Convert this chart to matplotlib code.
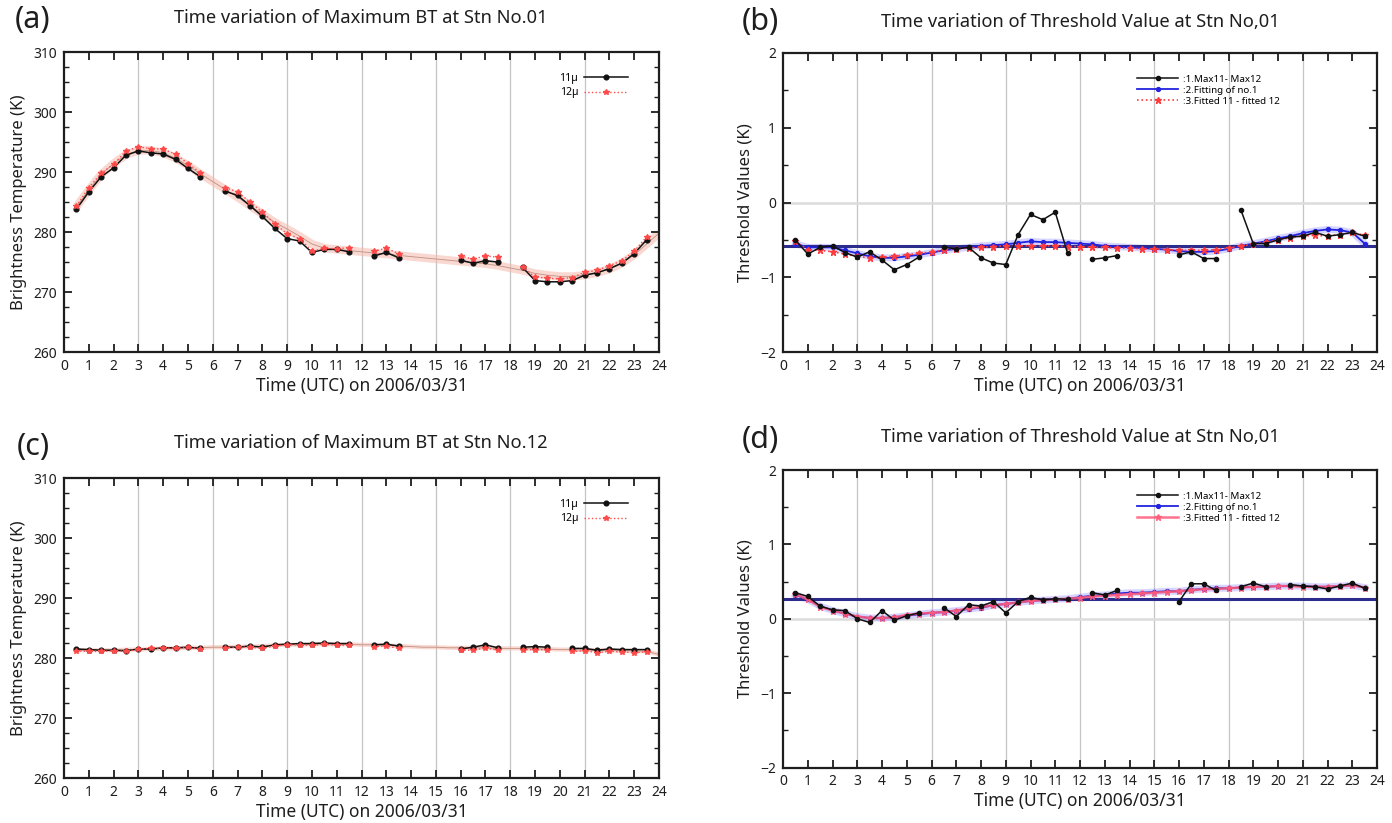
import matplotlib
matplotlib.use("Agg")
import matplotlib.pyplot as plt
import numpy as np
from matplotlib.ticker import MultipleLocator

plt.rcParams['font.family'] = ['Noto Sans', 'DejaVu Sans']

# ---- observation times (UTC hours) ----
hours = [0.5, 1.0, 1.5, 2.0, 2.5, 3.0, 3.5, 4.0, 4.5, 5.0, 5.5, 6.0,
         6.5, 7.0, 7.5, 8.0, 8.5, 9.0, 9.5, 10.0, 10.5, 11.0, 11.5, 12.0,
         12.5, 13.0, 13.5, 14.0, 14.5, 15.0, 15.5, 16.0, 16.5, 17.0, 17.5, 18.0,
         18.5, 19.0, 19.5, 20.0, 20.5, 21.0, 21.5, 22.0, 22.5, 23.0, 23.5]
fit_hours = hours + [24.0]

# ---- station 01: maximum brightness temperature (K) ----
bt11_a = [283.8, 286.7, 289.2, 290.7, 292.8, 293.5, 293.2, 293.0, 292.1, 290.6, 289.2, None,
          286.8, 286.1, 284.4, 282.6, 280.6, 278.9, 278.5, 276.6, 277.1, 277.1, 276.7, None,
          276.0, 276.6, 275.7, None, None, None, None, 275.3, 274.8, 275.2, 275.0, None,
          274.1, 271.9, 271.7, 271.7, 271.9, 272.8, 273.2, 273.9, 274.8, 276.4, 278.7]
bt12_a = [284.3, 287.4, 289.8, 291.3, 293.5, 294.2, 293.9, 293.8, 293.0, 291.4, 289.9, None,
          287.4, 286.7, 285.0, 283.3, 281.4, 279.7, 278.9, 276.8, 277.3, 277.2, 277.4, None,
          276.8, 277.3, 276.4, None, None, None, None, 276.0, 275.5, 276.0, 275.8, None,
          274.2, 272.5, 272.3, 272.2, 272.4, 273.3, 273.6, 274.4, 275.2, 276.8, 279.2]
fit_a = [284.2, 287.0, 289.6, 291.4, 292.9, 293.6, 293.6, 293.2, 292.3, 291.1, 289.7, 288.4,
         287.1, 285.8, 284.4, 283.0, 281.6, 280.5, 279.3, 278.0, 277.3, 277.1, 276.9, 276.7,
         276.5, 276.3, 276.1, 275.9, 275.7, 275.5, 275.3, 275.1, 274.9, 274.7, 274.4, 274.0,
         273.6, 273.1, 272.8, 272.6, 272.6, 272.8, 273.2, 273.8, 274.8, 276.2, 278.0, 279.8]

# ---- station 01: threshold values (K) ----
diff_b = [-0.50, -0.69, -0.60, -0.58, -0.67, -0.73, -0.66, -0.77, -0.90, -0.83, -0.73, None,
          -0.60, -0.62, -0.60, -0.74, -0.81, -0.83, -0.43, -0.16, -0.23, -0.13, -0.68, None,
          -0.76, -0.74, -0.71, None, None, None, None, -0.70, -0.66, -0.75, -0.75, None,
          -0.10, -0.55, -0.55, -0.50, -0.46, -0.45, -0.40, -0.45, -0.43, -0.40, -0.45]
fitting_b = [-0.55, -0.60, -0.60, -0.60, -0.64, -0.68, -0.72, -0.74, -0.74, -0.72, -0.70, -0.67,
             -0.64, -0.62, -0.60, -0.58, -0.57, -0.56, -0.54, -0.52, -0.53, -0.53, -0.54, -0.55,
             -0.56, -0.58, -0.59, -0.60, -0.61, -0.62, -0.63, -0.65, -0.66, -0.66, -0.65, -0.62,
             -0.58, -0.55, -0.52, -0.48, -0.45, -0.41, -0.38, -0.36, -0.37, -0.40, -0.55]
fitted_b = [-0.52, -0.63, -0.64, -0.66, -0.69, -0.72, -0.74, -0.73, -0.72, -0.70, -0.68, -0.66,
            -0.64, -0.62, -0.61, -0.60, -0.59, -0.58, -0.58, -0.58, -0.58, -0.58, -0.59, -0.59,
            -0.60, -0.60, -0.61, -0.61, -0.62, -0.62, -0.63, -0.64, -0.64, -0.64, -0.63, -0.61,
            -0.58, -0.56, -0.53, -0.50, -0.47, -0.45, -0.44, -0.45, -0.43, -0.40, -0.44]
thresh_b = -0.58

# ---- station 12: maximum brightness temperature (K) ----
bt11_c = [281.5, 281.4, 281.3, 281.3, 281.2, 281.5, 281.5, 281.7, 281.7, 281.8, 281.6, None,
          281.8, 281.8, 282.0, 281.8, 282.2, 282.3, 282.4, 282.4, 282.5, 282.4, 282.4, None,
          282.2, 282.3, 282.0, None, None, None, None, 281.5, 281.8, 282.2, 281.7, None,
          281.8, 281.9, 281.8, None, 281.6, 281.6, 281.3, 281.5, 281.4, 281.4, 281.4]
bt12_c = [281.2, 281.1, 281.1, 281.2, 281.1, 281.5, 281.6, 281.6, 281.7, 281.8, 281.5, None,
          281.7, 281.8, 281.8, 281.6, 282.0, 282.2, 282.2, 282.1, 282.3, 282.1, 282.1, None,
          281.9, 282.0, 281.6, None, None, None, None, 281.3, 281.3, 281.7, 281.3, None,
          281.4, 281.4, 281.4, None, 281.1, 281.2, 280.9, 281.1, 281.0, 280.9, 281.0]
fit_c = [281.3, 281.3, 281.3, 281.3, 281.4, 281.4, 281.5, 281.6, 281.6, 281.7, 281.7, 281.8,
         281.8, 281.9, 281.9, 282.0, 282.1, 282.2, 282.2, 282.3, 282.3, 282.3, 282.3, 282.2,
         282.2, 282.1, 282.0, 281.9, 281.8, 281.8, 281.7, 281.7, 281.7, 281.7, 281.6, 281.6,
         281.6, 281.5, 281.5, 281.4, 281.4, 281.3, 281.3, 281.3, 281.2, 281.2, 281.1, 280.6]

# ---- threshold values (K), lower panel ----
diff_d = [0.35, 0.30, 0.17, 0.12, 0.11, 0.00, -0.05, 0.11, -0.02, 0.04, 0.08, None,
          0.15, 0.03, 0.19, 0.17, 0.23, 0.08, 0.23, 0.29, 0.25, 0.27, 0.26, None,
          0.35, 0.32, 0.38, None, None, None, None, 0.23, 0.47, 0.47, 0.38, None,
          0.43, 0.48, 0.43, None, 0.46, 0.44, 0.43, 0.40, 0.44, 0.48, 0.41]
fitting_d = [0.32, 0.26, 0.17, 0.11, 0.07, 0.03, 0.01, 0.01, 0.02, 0.04, 0.06, 0.08,
             0.09, 0.11, 0.13, 0.15, 0.18, 0.20, 0.22, 0.24, 0.25, 0.26, 0.27, 0.29,
             0.31, 0.32, 0.34, 0.35, 0.35, 0.36, 0.37, 0.37, 0.39, 0.40, 0.41, 0.41,
             0.42, 0.43, 0.43, 0.44, 0.44, 0.44, 0.43, 0.43, 0.44, 0.45, 0.42]
fitted_d = [0.33, 0.26, 0.16, 0.11, 0.07, 0.03, 0.01, 0.01, 0.02, 0.05, 0.07, 0.08,
            0.09, 0.11, 0.14, 0.16, 0.18, 0.20, 0.22, 0.24, 0.25, 0.26, 0.27, 0.28,
            0.30, 0.31, 0.32, 0.33, 0.34, 0.35, 0.36, 0.37, 0.38, 0.40, 0.40, 0.41,
            0.42, 0.43, 0.43, 0.44, 0.44, 0.43, 0.43, 0.43, 0.44, 0.45, 0.42]
thresh_d = 0.265

xticks = list(range(0, 25))
bt_ticks = [260, 270, 280, 290, 300, 310]
th_ticks = [-2, -1, 0, 1, 2]

INK = '#1e1e1e'


def arr(v):
    return np.array(v, dtype=float)


W, H = 1392, 823
fig = plt.figure(figsize=(W / 100, H / 100), dpi=100)


def px_axes(left, top, right, bottom):
    return fig.add_axes([left / W, 1 - bottom / H, (right - left) / W, (bottom - top) / H])


def style_axes(ax, ylim, yticks, yminor):
    ax.set_xlim(0, 24)
    ax.set_ylim(*ylim)
    ax.set_xticks(xticks)
    ax.set_yticks(yticks)
    ax.yaxis.set_minor_locator(MultipleLocator(yminor))
    ax.tick_params(which='both', direction='in', top=True, right=True, colors=INK)
    ax.tick_params(which='major', length=6, width=1.3, labelsize=10, pad=5)
    ax.tick_params(which='minor', length=3.5, width=1.0)
    for sp in ax.spines.values():
        sp.set_linewidth(1.6)
        sp.set_color(INK)
    for h in range(3, 24, 3):
        ax.axvline(h, color='#c4c4c4', lw=0.9, zorder=0)
    ax.set_xlabel('Time (UTC) on 2006/03/31', fontsize=12.5, color=INK, labelpad=2)


def bt_panel(ax, b11, b12, fit, band_lw):
    style_axes(ax, (260, 310), bt_ticks, 2.5)
    ax.plot(fit_hours, arr(fit), color='#f6b9ad', lw=band_lw, alpha=0.55,
            solid_capstyle='butt', zorder=1)
    ax.plot(fit_hours, arr(fit), color='#c09080', lw=0.6, zorder=2)
    ax.plot(hours, arr(b11), color='#111111', lw=1.1, marker='o', ms=3.4, zorder=3, label='11µ')
    ax.plot(hours, arr(b12), color='#ff4a4a', lw=1.0, ls=':', marker='*', ms=4.0, zorder=4, label='12µ')
    ax.set_ylabel('Brightness Temperature (K)', fontsize=12, color=INK)
    ax.yaxis.set_label_coords(-0.062, 0.5)
    ax.legend(loc='upper right', bbox_to_anchor=(0.955, 0.945), frameon=False,
              markerfirst=False, fontsize=7.5, handlelength=4.2, handletextpad=0.6,
              labelspacing=0.35, borderaxespad=0)


def th_panel(ax, diff, fitting, fitted, thresh, red_style):
    style_axes(ax, (-2, 2), th_ticks, 0.5)
    ax.axhline(0, color='#dcdcdc', lw=1.8, zorder=0)
    ax.plot(hours, arr(fitting), color='#5a5aff', lw=5, alpha=0.25, zorder=1)
    ax.axhline(thresh, color='#2c2c8c', lw=2.2, zorder=2)
    l1, = ax.plot(hours, arr(diff), color='#111111', lw=1.1, marker='o', ms=3.0, zorder=5)
    l2, = ax.plot(hours, arr(fitting), color='#2323e0', lw=1.3, marker='o', ms=2.8, zorder=3)
    if red_style == 'dotted':
        l3, = ax.plot(hours, arr(fitted), color='#ff3b3b', lw=1.2, ls=':', marker='*', ms=4.5, zorder=4)
    else:
        l3, = ax.plot(hours, arr(fitted), color='#ff5a7a', lw=1.8, alpha=0.85, marker='*', ms=4.5, zorder=4)
    ax.set_ylabel('Threshold Values (K)', fontsize=12, color=INK)
    ax.yaxis.set_label_coords(-0.05, 0.5)
    ax.legend([l1, l2, l3], [':1.Max11- Max12', ':2.Fitting of no.1', ':3.Fitted 11 - fitted 12'],
              loc='upper left', bbox_to_anchor=(0.59, 0.94), frameon=False, fontsize=7,
              handlelength=4.2, handletextpad=0.5, labelspacing=0.2, borderaxespad=0)


ax_a = px_axes(64, 52, 659, 352)
ax_b = px_axes(783, 53, 1377, 352)
ax_c = px_axes(64, 478, 659, 778)
ax_d = px_axes(783, 470, 1377, 767.5)

bt_panel(ax_a, bt11_a, bt12_a, fit_a, 6)
th_panel(ax_b, diff_b, fitting_b, fitted_b, thresh_b, 'dotted')
bt_panel(ax_c, bt11_c, bt12_c, fit_c, 3)
th_panel(ax_d, diff_d, fitting_d, fitted_d, thresh_d, 'solid')


def ftext(x, y, s, **kw):
    fig.text(x / W, 1 - y / H, s, ha='center', va='center', color=INK, **kw)


ftext(361, 18, 'Time variation of Maximum BT at Stn No.01', fontsize=13.2)
ftext(1080, 22, 'Time variation of Threshold Value at Stn No,01', fontsize=13.2)
ftext(361, 443, 'Time variation of Maximum BT at Stn No.12', fontsize=13.2)
ftext(1080, 437, 'Time variation of Threshold Value at Stn No,01', fontsize=13.2)

ftext(33, 20, '(a)', fontsize=22)
ftext(760, 22, '(b)', fontsize=22)
ftext(33, 447, '(c)', fontsize=22)
ftext(760, 440, '(d)', fontsize=22)

fig.savefig('out.png', dpi=100, facecolor='white')
